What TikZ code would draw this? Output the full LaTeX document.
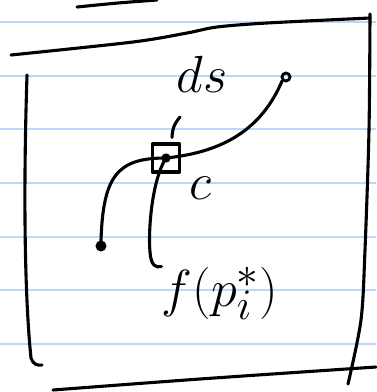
\documentclass[tikz,border=0pt]{standalone}
\definecolor{paperblue}{RGB}{190,214,250}
\begin{document}
\begin{tikzpicture}[x=1pt, y=-1pt,
    ink/.style={line width=3.1pt, line cap=round, line join=round},
    rule/.style={line width=1.8pt, draw=paperblue},
    hand/.style={font=\Huge, scale=2.1, transform shape, inner sep=0pt},
    pin/.style={circle, draw, line width=2.8pt, inner sep=0pt, minimum size=8pt}
]
    \useasboundingbox (0,0) rectangle (376,392);
    % ruled paper
    \foreach \y in {22,76,129,183,237,290,344}
        \draw[rule] (0,\y) -- (376,\y);

    % frame strokes
    \draw[ink] plot[smooth] coordinates {(77,7) (118,3) (157,0)};
    \draw[ink] plot[smooth] coordinates {(11,55) (133,42) (187,33) (217,27) (267,23) (370,18)};
    \draw[ink] plot[smooth] coordinates {(370,14) (369,130) (365,250) (361,320) (348,384)};
    \draw[ink] plot[smooth] coordinates {(53,390) (200,379) (376,367)};
    \draw[ink] (27,75) .. controls (23,200) and (25,300) .. (31,358) .. controls (33,364) and (37,366) .. (42,365);

    % nodes
    \node[draw, ink, minimum width=27pt, minimum height=28pt, inner sep=0pt] (sq) at (166,158) {};
    \node[hand] (ds) at (202,74) {$ds$};
    \node[hand] (cl) at (201,188) {$c$};
    \node[hand] (fp) at (220,293) {$f(p_i^*)$};
    \node[pin, fill=black] (lo) at (101,246) {};
    \node[pin] (hi) at (286,77) {};
    \coordinate (tk) at (180,117);

    % curves
    \draw[ink] (lo.north) .. controls (103,175) and (118,158) .. (sq.center)
        .. controls (225,152) and (262,128) .. (hi.south west);
    \draw[ink] (sq.center) circle (3pt);
    \draw[ink] (sq.center) .. controls (152,180) and (148,230) .. (150,252)
        .. controls (151,266) and (156,268) .. (fp.north west);
    \draw[ink] (tk) .. controls (174,124) and (172,130) .. ([xshift=6pt,yshift=5pt]sq.north);
\end{tikzpicture}
\end{document}
